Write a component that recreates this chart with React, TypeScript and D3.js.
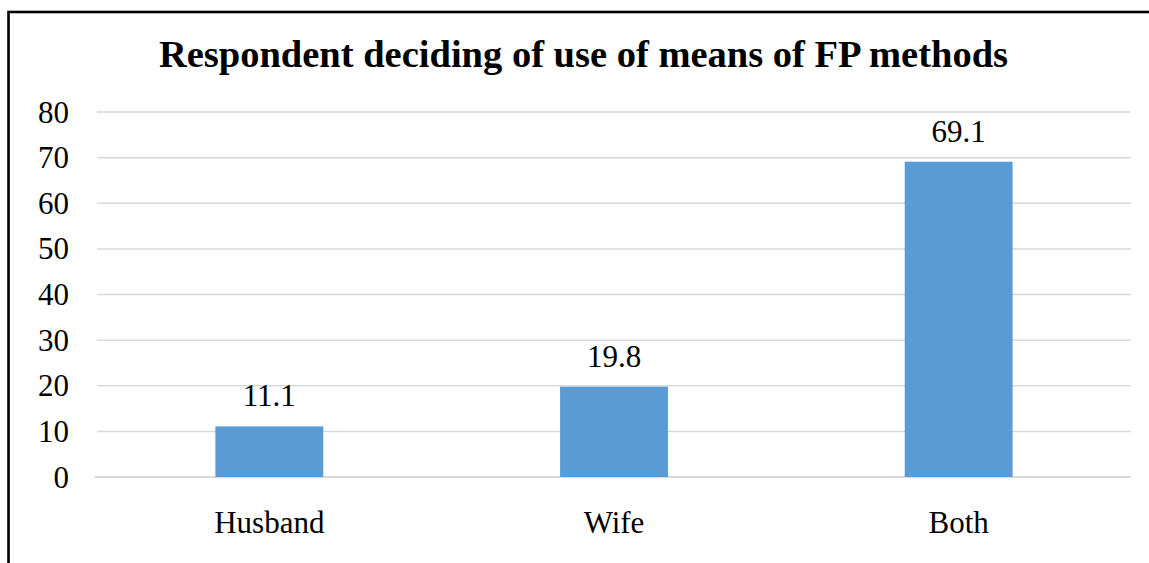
import React from "react";
import * as d3 from "d3";

const categories = ["Husband", "Wife", "Both"];
const values = [11.1, 19.8, 69.1];
const yTicks = [0, 10, 20, 30, 40, 50, 60, 70, 80];
const title = "Respondent deciding of use of means of FP methods";

const W = 1149;
const H = 563;
const plot = { left: 97, right: 1131, top: 112, bottom: 477 };
const barColor = "#5b9bd5";
const gridColor = "#d9d9d9";
const font = "'Times New Roman', 'Liberation Serif', serif";
const labelSize = 31;

export default function App() {
  const x = d3
    .scaleBand<string>()
    .domain(categories)
    .range([plot.left, plot.right])
    .padding(0);
  const y = d3.scaleLinear().domain([0, 80]).range([plot.bottom, plot.top]);
  const barW = x.bandwidth() * 0.313;

  const textStyle = { fontFamily: font };

  return (
    <svg
      width={W}
      height={H}
      style={{ position: "absolute", left: 0, top: 0, display: "block", background: "#fff" }}
    >
      {/* chart frame: only top and left edges fall inside the view */}
      <rect x={8.5} y={12} width={W + 20} height={H + 20} fill="#fff" stroke="#000" strokeWidth={2.6} />

      <text
        x={583.5}
        y={67}
        textAnchor="middle"
        style={textStyle}
        fontWeight="bold"
        fontSize={38.5}
        fill="#000"
      >
        {title}
      </text>

      {yTicks.map((t) => (
        <g key={t}>
          <line
            x1={t === 0 ? plot.left - 2 : plot.left}
            x2={plot.right}
            y1={y(t)}
            y2={y(t)}
            stroke={gridColor}
            strokeWidth={t === 0 ? 2 : 1.5}
          />
          <text
            x={69}
            y={y(t) + 10.5}
            textAnchor="end"
            style={textStyle}
            fontSize={labelSize}
            fill="#000"
          >
            {t}
          </text>
        </g>
      ))}

      {categories.map((c, i) => {
        const cx = (x(c) as number) + x.bandwidth() / 2;
        return (
          <g key={c}>
            <rect
              x={cx - barW / 2}
              y={y(values[i])}
              width={barW}
              height={y(0) - y(values[i])}
              fill={barColor}
            />
            <text
              x={cx}
              y={y(values[i]) - 20}
              textAnchor="middle"
              style={textStyle}
              fontSize={labelSize}
              fill="#000"
            >
              {values[i].toFixed(1)}
            </text>
            <text
              x={cx}
              y={plot.bottom + 56}
              textAnchor="middle"
              style={textStyle}
              fontSize={labelSize}
              fill="#000"
            >
              {c}
            </text>
          </g>
        );
      })}
    </svg>
  );
}
